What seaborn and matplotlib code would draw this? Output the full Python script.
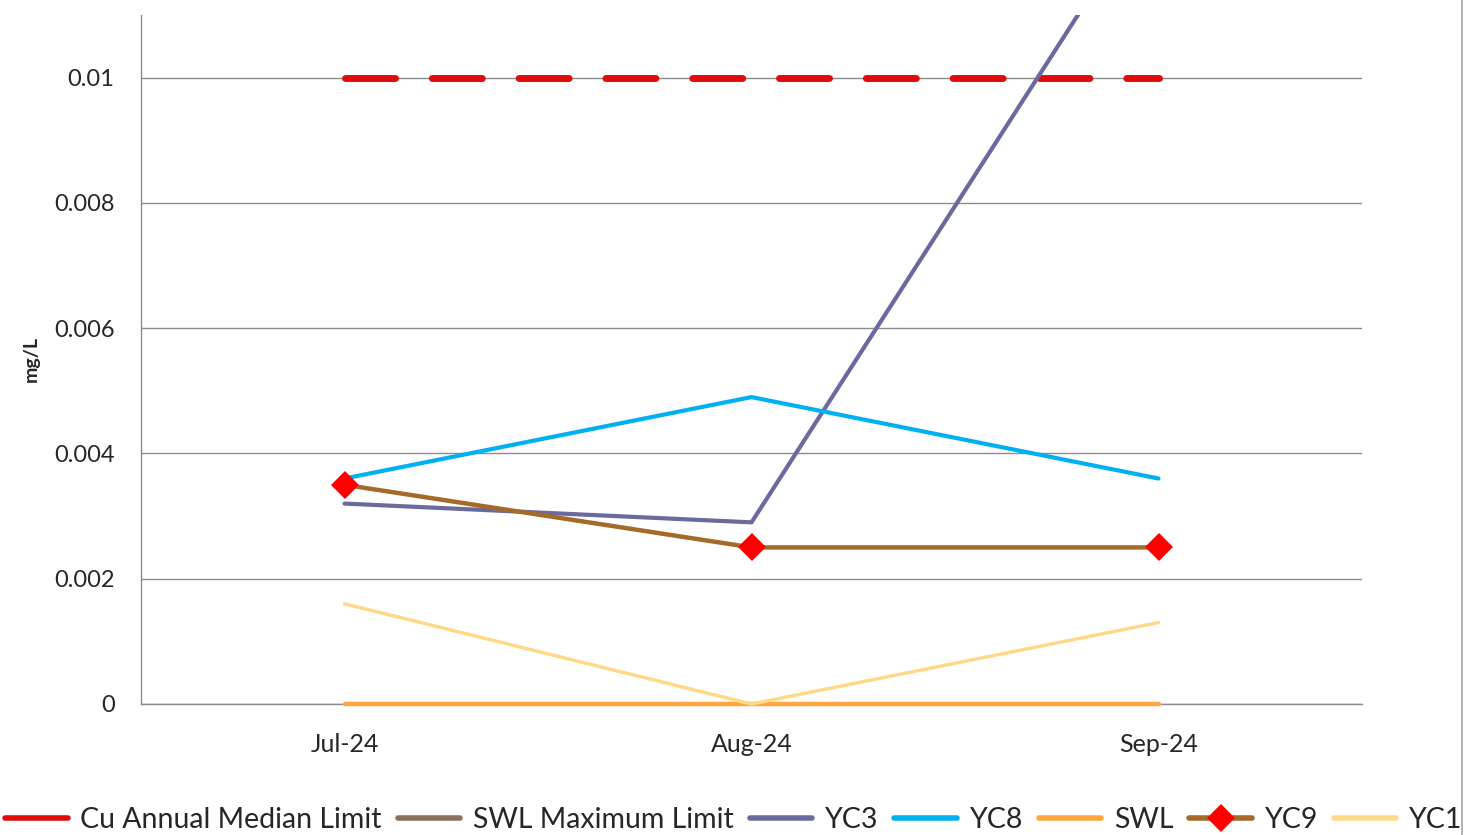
import matplotlib
matplotlib.use("Agg")
import matplotlib.pyplot as plt
import seaborn as sns
import pandas as pd
import numpy as np

# Monthly copper concentrations (mg/L)
months = ["Jul-24", "Aug-24", "Sep-24"]
cu_median_limit = [0.01, 0.01, 0.01]
swl_max_limit = [np.nan, np.nan, np.nan]
yc3 = [0.0032, 0.0029, 0.013]
yc8 = [0.0036, 0.0049, 0.0036]
swl = [0.0, 0.0, 0.0]
yc9 = [0.0035, 0.0025, 0.0025]
yc1 = [0.0016, 0.0, 0.0013]

yticks = [0, 0.002, 0.004, 0.006, 0.008, 0.01]
ytick_labels = ["0", "0.002", "0.004", "0.006", "0.008", "0.01"]

sns.set_theme(style="white")
plt.rcParams["font.family"] = ["Lato", "DejaVu Sans"]

fig = plt.figure(figsize=(14.72, 8.35), dpi=100)
ax = fig.add_axes([141 / 1472, 1 - 704 / 835, (1362 - 141) / 1472, (704 - 15) / 835])

x = np.arange(len(months))

series = [
    ("Cu Annual Median Limit", cu_median_limit, "#e00b0b", 5.0, None),
    ("SWL Maximum Limit", swl_max_limit, "#8b7060", 3.0, None),
    ("YC3", yc3, "#6a6a9e", 3.0, None),
    ("YC8", yc8, "#00b0f0", 3.0, None),
    ("SWL", swl, "#ffa640", 3.2, None),
    ("YC9", yc9, "#a36a2a", 3.2, "D"),
    ("YC1", yc1, "#ffd98a", 2.5, None),
]

for name, vals, color, lw, marker in series:
    df = pd.DataFrame({"x": x, "y": vals})
    kw = dict(data=df, x="x", y="y", ax=ax, color=color, linewidth=lw,
              label=name, legend=False, solid_capstyle="round")
    if marker:
        kw.update(marker=marker, markersize=14, markerfacecolor="#ff0000",
                  markeredgecolor="#ff0000", markeredgewidth=0)
    line = sns.lineplot(**kw).get_lines()[-1]
    line.set_zorder(3)
    if name == "Cu Annual Median Limit":
        line.set_dashes((7.2, 5.3))
        line.set_dash_capstyle("round")
    if name == "YC3":
        line.set_clip_on(True)
    else:
        line.set_clip_on(False)

ax.set_xlim(-0.5, 2.5)
ax.set_ylim(0, 0.011)
ax.set_xticks(x)
ax.set_xticklabels(months, fontsize=18)
ax.set_yticks(yticks)
ax.set_yticklabels(ytick_labels, fontsize=17)
ax.tick_params(axis="x", pad=21, length=0)
ax.tick_params(axis="y", pad=19, length=0)
ax.yaxis.grid(True, color="#8c8c8c", linewidth=1)
ax.set_axisbelow(True)
ax.set_xlabel("")
ax.set_ylabel("mg/L", fontsize=14, fontweight="bold", labelpad=10)

for side in ["top", "right"]:
    ax.spines[side].set_visible(False)
for side in ["left", "bottom"]:
    ax.spines[side].set_color("#8c8c8c")
    ax.spines[side].set_linewidth(1)
    ax.spines[side].set_zorder(1)

handles, labels = ax.get_legend_handles_labels()
leg = fig.legend(handles, labels, loc="lower center", ncol=7,
                 bbox_to_anchor=(0.4985, -0.028), frameon=False, fontsize=20.5,
                 handlelength=2.2, handletextpad=0.45, columnspacing=0.55)
for h in leg.legend_handles:
    h.set_linestyle("-")
    h.set_linewidth(4)

# thin outer frame line on the right
fig.add_artist(plt.Line2D([1462 / 1472, 1462 / 1472], [0, 1], color="#a6a6a6",
                          linewidth=1.2, transform=fig.transFigure))

fig.savefig("out.png", dpi=100)
